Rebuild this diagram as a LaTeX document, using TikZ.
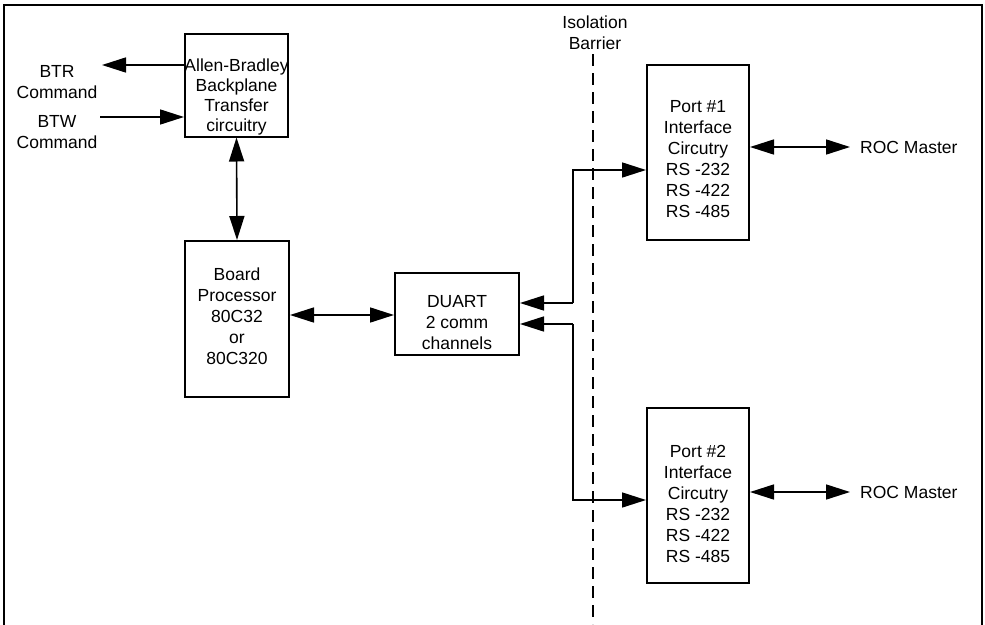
\documentclass[tikz,border=0pt]{standalone}
\usepackage{fontspec}
\setmainfont{Liberation Sans}
\usetikzlibrary{arrows.meta}
\begin{document}
\begin{tikzpicture}[x=1pt,y=-1pt,
  font=\fontsize{17.5}{21}\selectfont,
  block/.style={draw,line width=2pt,minimum width=#1,inner sep=0pt},
  link/.style={line width=1.6pt},
  tip/.style={-{Triangle[length=24pt,width=15pt]}},
  bitip/.style={{Triangle[length=24pt,width=15pt]}-{Triangle[length=24pt,width=15pt]}},
  lbl/.style={align=center,inner sep=0pt}]
\useasboundingbox (0,0) rectangle (985,624);
% open frame
\draw[line width=2.4pt] (4,626) -- (4,5) -- (982,5) -- (982,626);

% blocks
\node[block=103pt,minimum height=103pt] (ab) at (236.5,85) {};
\node[block=104pt,minimum height=156pt] (bp) at (237,319) {};
\node[block=124pt,minimum height=82pt] (du) at (457,314) {};
\node[block=102pt,minimum height=175pt] (p1) at (698,152.5) {};
\node[block=102pt,minimum height=175pt] (p2) at (698,495.5) {};

% block texts
\node[lbl,font=\fontsize{17.5}{20}\selectfont] (abt) at ([yshift=-12pt]ab.center) {Allen-Bradley\\Backplane\\Transfer\\circuitry};
\node[lbl] (bpt) at ([yshift=3pt]bp.center) {Board\\Processor\\80C32\\or\\80C320};
\node[lbl] (dut) at ([yshift=-9pt]du.center) {DUART\\2 comm\\channels};
\node[lbl] (p1t) at ([yshift=-7pt]p1.center) {Port \#1\\Interface\\Circutry\\RS -232\\RS -422\\RS -485};
\node[lbl] (p2t) at ([yshift=-8pt]p2.center) {Port \#2\\Interface\\Circutry\\RS -232\\RS -422\\RS -485};

% labels
\node[lbl] (btr) at (57,82) {BTR\\Command};
\node[lbl] (btw) at (57,132) {BTW\\Command};
\node[lbl] (iso) at (595,33) {Isolation\\Barrier};
\node[lbl,anchor=west] (roc1) at (860,147) {ROC Master};
\node[lbl,anchor=west] (roc2) at (860,492) {ROC Master};

% isolation barrier
\coordinate (bt) at (593,54);
\coordinate (bb) at (593,624);
\draw[line width=1.6pt,dash pattern=on 12pt off 7pt] (bt) -- (bb);

% connectors
\coordinate (btrend) at (102,65);
\coordinate (btwend) at (100,117);
\draw[link,tip] (ab.west |- btrend) -- (btrend);
\draw[link,tip] (btwend) -- (ab.west |- btwend);
\draw[link,bitip] (ab.south) -- (bp.north);
\draw[link,bitip] (bp.east |- 0,315) -- (du.west |- 0,315);

\coordinate (j1) at (573,303);
\coordinate (j2) at (573,324);
\draw[link,tip] (j1) -- (du.east |- j1);
\draw[link,tip] (j2) -- (du.east |- j2);
\draw[link,tip] (j1) -- (573,170) -- (p1.west |- 0,170);
\draw[link,tip] (j2) -- (573,500) -- (p2.west |- 0,500);

\coordinate (r1) at (850,147);
\coordinate (r2) at (850,492);
\draw[link,bitip] (p1.east |- r1) -- (r1);
\draw[link,bitip] (p2.east |- r2) -- (r2);
\end{tikzpicture}
\end{document}
